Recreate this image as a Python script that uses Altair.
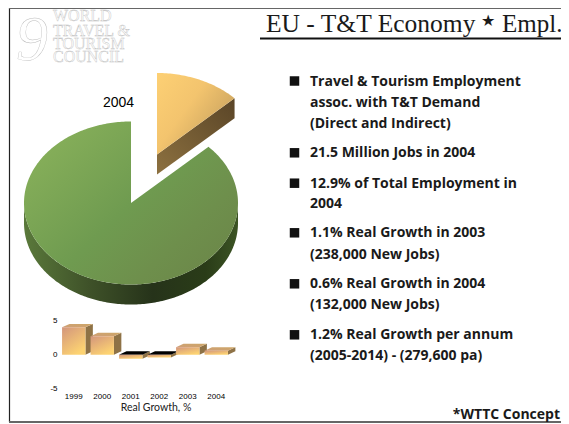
import math
import altair as alt
import pandas as pd

# ---- data ----
pie_labels = ["T&T Employment", "Other Employment"]
pie_shares = [12.9, 87.1]
years = ["1999", "2000", "2001", "2002", "2003", "2004"]
growth = [4.0, 2.7, -0.6, -0.4, 1.1, 0.6]
growth_ticks = [5, 0, -5]
title_parts = ["EU - T&T Economy", "★", "Empl."]
logo_lines = ["WORLD", "TRAVEL &", "TOURISM", "COUNCIL"]
bullets = [
    ["Travel & Tourism Employment", "assoc. with T&T Demand", "(Direct and Indirect)"],
    ["21.5 Million Jobs in 2004"],
    ["12.9% of Total Employment in", "2004"],
    ["1.1% Real Growth in 2003", "(238,000 New Jobs)"],
    ["0.6% Real Growth in 2004", "(132,000 New Jobs)"],
    ["1.2% Real Growth per annum", "(2005-2014) - (279,600 pa)"],
]
footnote = "*WTTC Concept"
pie_label = "2004"
bar_title = "Real Growth, %"

W, H = 553, 416
OFF = 8


def grad(stops, x1=0, y1=0, x2=1, y2=1):
    return alt.LinearGradient(
        gradient="linear", x1=x1, y1=y1, x2=x2, y2=y2,
        stops=[alt.GradientStop(offset=o, color=c) for o, c in stops],
    )


def label(text, x, y, size, font="Lato", weight="normal", align="left", color="#111",
          **kw):
    df = pd.DataFrame({"t": [text]})
    return alt.Chart(df).mark_text(
        font=font, fontSize=size, fontWeight=weight, align=align, baseline="alphabetic",
        color=color, **kw
    ).encode(x=alt.value(x - OFF), y=alt.value(y - OFF), text="t:N")


def hrule(x1, x2, y, color, w):
    return alt.Chart(pd.DataFrame({"a": [0]})).mark_rule(color=color, strokeWidth=w).encode(
        x=alt.value(x1 - OFF), x2=alt.value(x2 - OFF), y=alt.value(y - OFF))


def vrule(x, y1, y2, color, w):
    return alt.Chart(pd.DataFrame({"a": [0]})).mark_rule(color=color, strokeWidth=w).encode(
        x=alt.value(x - OFF), y=alt.value(y1 - OFF), y2=alt.value(y2 - OFF))


# ---- pie geometry (page pixels): flattened disc, slices from the shares ----
A, B, DEPTH = 107, 81.5, 20
GREEN_C = (131, 203)
GOLD_C = (157, 154.5)


def rim(c, deg):
    r = math.radians(deg)
    return (c[0] + A * math.sin(r), c[1] - B * math.cos(r))


def arc(c, d0, d1):
    n = max(2, int(abs(d1 - d0)))
    return [rim(c, d0 + (d1 - d0) * i / n) for i in range(n + 1)]


cut = pie_shares[0] / sum(pie_shares) * 360

gold_face = [GOLD_C] + arc(GOLD_C, 0, cut) + [GOLD_C]
gold_edge = rim(GOLD_C, cut)
gold_side = [GOLD_C, gold_edge, (gold_edge[0], gold_edge[1] + DEPTH),
             (GOLD_C[0], GOLD_C[1] + DEPTH), GOLD_C]
green_face = [GREEN_C] + arc(GREEN_C, cut, 360) + [GREEN_C]
lower = arc(GREEN_C, 90, 270)
green_side = lower + [(x, y + DEPTH) for x, y in reversed(lower)] + [lower[0]]


def poly(points, fill):
    df = pd.DataFrame({"x": [p[0] - OFF for p in points],
                       "y": [p[1] - OFF for p in points],
                       "i": range(len(points))})
    sx = alt.Scale(domain=[0, W], range=[0, W], nice=False, zero=False)
    sy = alt.Scale(domain=[0, H], range=[0, H], nice=False, zero=False)
    return alt.Chart(df).mark_line(fill=fill, strokeWidth=0, interpolate="linear").encode(
        x=alt.X("x:Q", scale=sx, axis=None),
        y=alt.Y("y:Q", scale=sy, axis=None),
        order="i:Q",
    )


green_face_fill = grad([(0, "#8ab25b"), (0.5, "#6f9b50"), (0.75, "#6e8f4c"), (1, "#6b8548")], 0, 0.1, 1, 0.9)
green_side_fill = grad([(0, "#5a793b"), (0.3, "#3f5229"), (0.6, "#26331a"), (0.85, "#2a3c18"), (1, "#3c5424")], 0, 0, 1, 0)
gold_face_fill = grad([(0, "#fdd074"), (0.45, "#f3c46e"), (1, "#c19c5c")], 0, 0, 1, 0.75)
gold_side_fill = grad([(0, "#8d7140"), (1, "#5a4527")], 0, 1, 1, 0)

# ---- 3-D bars, all built from the growth values on one pair of scales ----
bx = alt.Scale(domain=[0, 6], range=[59.5 - OFF, 230.5 - OFF], nice=False, zero=False)
by = alt.Scale(domain=[-5, 5], range=[389 - OFF, 320.5 - OFF], nice=False, zero=False)
BAR_M, BAR_W, DX, DY = 0.09, 0.82, 0.26, 0.5

front_rows, top_rows, side_rows = [], [], []
for k, (yr, v) in enumerate(zip(years, growth)):
    l, r = k + BAR_M, k + BAR_M + BAR_W
    hi, lo = max(v, 0), min(v, 0)
    front_rows.append({"year": yr, "l": l, "r": r, "hi": hi, "lo": lo})
    for i, (px, py) in enumerate([(l, hi), (l + DX, hi + DY), (r + DX, hi + DY), (r, hi), (l, hi)]):
        top_rows.append({"year": yr, "x": px, "y": py, "i": i, "neg": v < 0})
    for i, (px, py) in enumerate([(r, hi), (r + DX, hi + DY), (r + DX, lo + DY), (r, lo), (r, hi)]):
        side_rows.append({"year": yr, "x": px, "y": py, "i": i})

front_df = pd.DataFrame(front_rows)
top_df = pd.DataFrame(top_rows)
side_df = pd.DataFrame(side_rows)


def bar_poly(df, fill):
    return alt.Chart(df).mark_line(fill=fill, strokeWidth=0).encode(
        x=alt.X("x:Q", scale=bx, axis=None),
        y=alt.Y("y:Q", scale=by, axis=None),
        detail="year:N",
        order="i:Q",
    )


fronts = alt.Chart(front_df).mark_bar(
    fill=grad([(0, "#d3967c"), (1, "#fdd372")], 0, 0, 0.6, 1)
).encode(
    x=alt.X("l:Q", scale=bx, axis=None), x2="r:Q",
    y=alt.Y("hi:Q", scale=by, axis=None), y2="lo:Q",
)
tops_pos = bar_poly(top_df[~top_df.neg], grad([(0, "#cf9f78"), (1, "#cda666")], 0, 1, 1, 0))
tops_neg = bar_poly(top_df[top_df.neg], "#000000")
sides = bar_poly(side_df, "#8e7246")

year_df = pd.DataFrame({"year": years, "c": [i + 0.5 for i in range(len(years))]})
year_labels = alt.Chart(year_df).mark_text(
    font="Liberation Sans", fontSize=8, color="#000", baseline="alphabetic"
).encode(
    x=alt.X("c:Q", scale=bx, axis=None), y=alt.value(399 - OFF), text="year:N")
tick_df = pd.DataFrame({"v": growth_ticks})
tick_labels = alt.Chart(tick_df).mark_text(
    font="Liberation Sans", fontSize=8, color="#000", align="right", baseline="middle"
).encode(
    x=alt.value(57.5 - OFF), y=alt.Y("v:Q", scale=by, axis=None), text="v:N")

# ---- text layout ----
layers = [
    vrule(9.5, 8, 422, "#222222", 1.2),
    hrule(9, 561, 8.5, "#666666", 1),
    hrule(9, 561, 422, "#666666", 2),
    hrule(260, 561, 38.5, "#111111", 2),
]

logo_kw = dict(font="Liberation Serif", color="#ffffff", stroke="#bdbdbd", strokeWidth=0.4)
layers.append(label("9", 16, 60, 64, fontStyle="italic", **logo_kw))
for text, y in zip(logo_lines, [21, 35.5, 49, 62]):
    layers.append(label(text, 53, y, 16, **logo_kw))

title_xy = [(266, 31.5, 25.5), (481, 26, 16), (502, 31.5, 25)]
for text, (x, y, s) in zip(title_parts, title_xy):
    layers.append(label(text, x, y, s, font="Liberation Serif", color="#1a1a1a"))

line_y = [[85.5, 107, 127.5], [157.3], [187.7, 208.3], [237.3, 258.5], [288.3, 309], [339.3, 360]]
for lines, ys in zip(bullets, line_y):
    sq = alt.Chart(pd.DataFrame({"a": [0]})).mark_square(size=90, color="#111", opacity=1).encode(
        x=alt.value(294.5 - OFF), y=alt.value(ys[0] - 4.5 - OFF))
    layers.append(sq)
    for text, y in zip(lines, ys):
        layers.append(label(text, 310, y, 14, font="Open Sans", weight="bold", color="#1a1a1a"))

layers.append(label(footnote, 560, 419, 14, font="Open Sans", weight="bold", align="right", color="#1a1a1a"))
layers.append(label(pie_label, 103, 106.7, 14, font="Liberation Sans", color="#000"))
layers.append(label(bar_title, 156, 411, 10.5, font="Lato", align="center", color="#222"))

layers += [
    poly(green_side, green_side_fill),
    poly(green_face, green_face_fill),
    poly(gold_side, gold_side_fill),
    poly(gold_face, gold_face_fill),
    sides, tops_pos, tops_neg, fronts,
    year_labels, tick_labels,
]

chart = alt.layer(*layers).resolve_scale(x="independent", y="independent").properties(
    width=W, height=H, padding=0, autosize="none", background="white"
).configure_view(stroke=None)

chart.save("out.html", embed_options={"renderer": "svg", "actions": False})
